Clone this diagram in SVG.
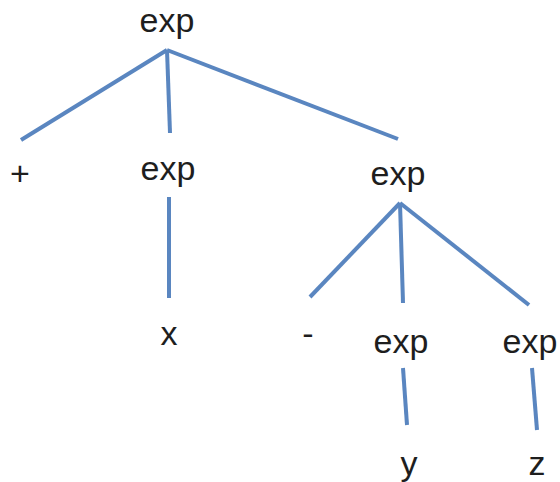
<svg xmlns="http://www.w3.org/2000/svg" width="560" height="482" viewBox="0 0 560 482">
<style>
text{font-family:"Liberation Sans",Arial,sans-serif;font-size:34px;fill:#1e1e1e;text-anchor:middle}
line{stroke:#5a86c0;stroke-width:4;stroke-linecap:butt}
</style>
<rect width="560" height="482" fill="#fff"/>
<g id="connectors">
<line x1="167" y1="50" x2="21" y2="140"/>
<line x1="167" y1="50" x2="170" y2="133"/>
<line x1="167" y1="50" x2="398" y2="139"/>
<line x1="169" y1="197" x2="169" y2="298"/>
<line x1="400" y1="203" x2="310" y2="297"/>
<line x1="400" y1="203" x2="403" y2="303"/>
<line x1="400" y1="203" x2="529" y2="305"/>
<line x1="403" y1="368" x2="407" y2="425"/>
<line x1="532" y1="368" x2="537" y2="430"/>
</g>
<g id="n-root"><text x="167" y="32">exp</text></g>
<g id="n-plus"><text x="20" y="185">+</text></g>
<g id="n-exp1"><text x="168" y="180">exp</text></g>
<g id="n-exp2"><text x="398" y="185">exp</text></g>
<g id="n-x"><text x="169" y="345">x</text></g>
<g id="n-minus"><text x="308" y="345">-</text></g>
<g id="n-exp3"><text x="401" y="353">exp</text></g>
<g id="n-exp4"><text x="530" y="353">exp</text></g>
<g id="n-y"><text x="409" y="475">y</text></g>
<g id="n-z"><text x="537" y="475">z</text></g>
</svg>
